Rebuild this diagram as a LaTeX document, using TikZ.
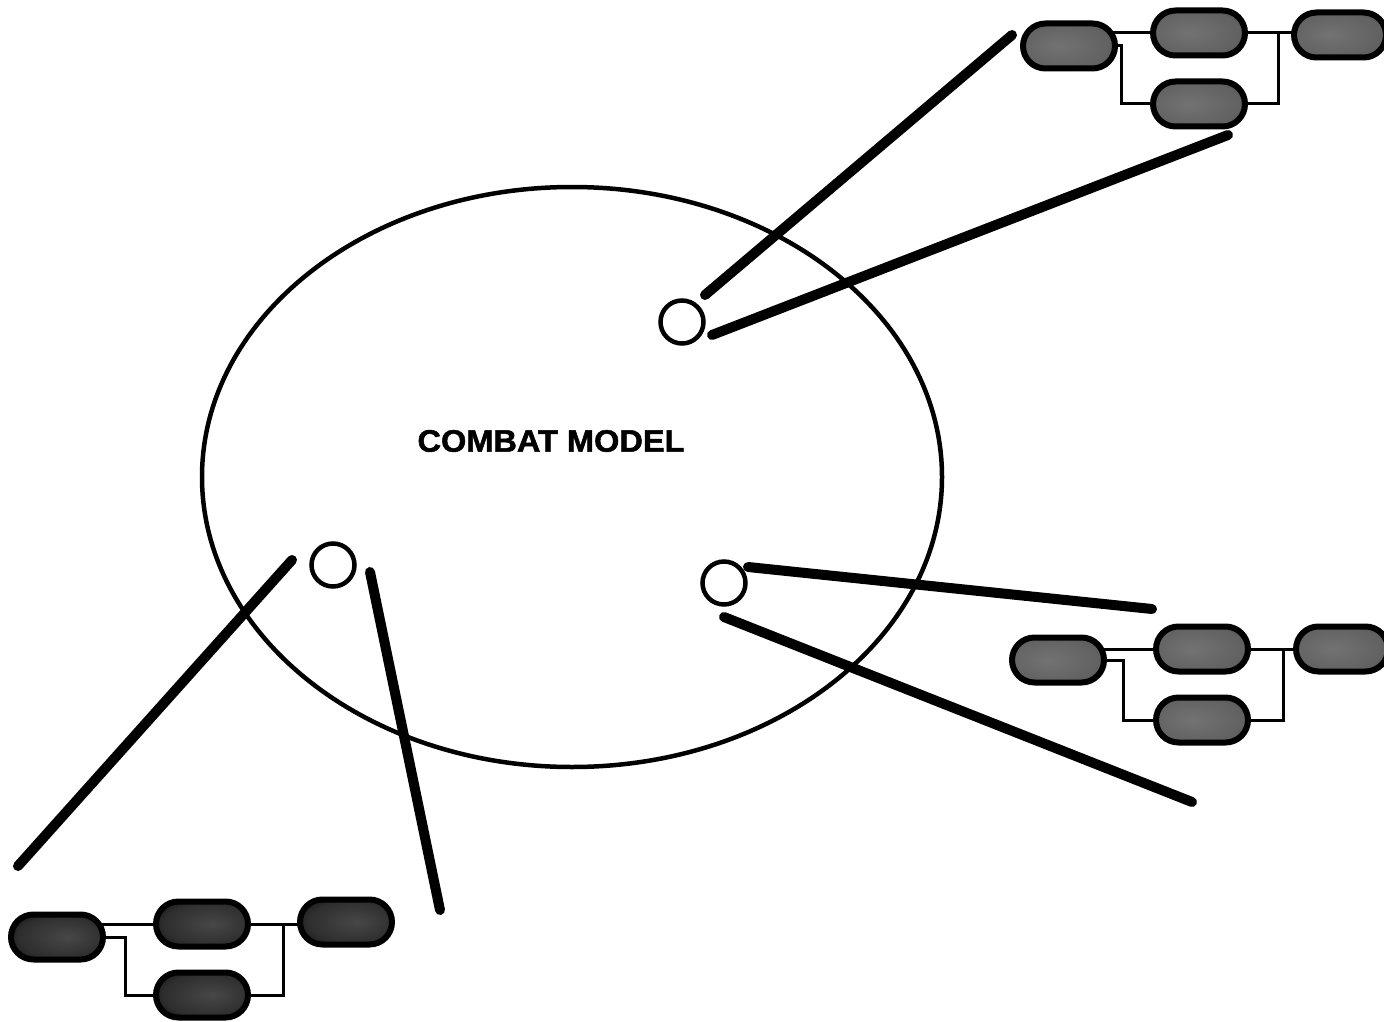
\documentclass[tikz,border=0pt]{standalone}
\usepackage{fontspec}
\setmainfont{Liberation Sans}
\newfontfamily\titlefont[FakeBold=1.6]{Liberation Sans Bold}
\usetikzlibrary{shapes.misc,shapes.geometric,backgrounds}
% halftone-like fill: grey body darkening to black at the rim
\pgfdeclareradialshading{pillgrey}{\pgfpoint{-6bp}{0bp}}{%
  color(0bp)=(black!55); color(26bp)=(black!62); color(40bp)=(black!85); color(50bp)=(black)}
\pgfdeclareradialshading{pilldark}{\pgfpoint{6bp}{0bp}}{%
  color(0bp)=(black!72); color(24bp)=(black!82); color(38bp)=(black!96); color(50bp)=(black)}
\begin{document}
\begin{tikzpicture}[x=1pt,y=-1pt,
  pill/.style={rounded rectangle, draw=black, line width=6pt,
    minimum width=92pt, minimum height=45pt, inner sep=0pt,
    shade, shading=pillgrey},
  darkpill/.style={pill, shading=pilldark},
  port/.style={circle, draw=black, line width=4.5pt, minimum size=43pt, inner sep=0pt, fill=white},
  link/.style={line width=3pt},
  zoomline/.style={line width=10pt, line cap=round},
]
\useasboundingbox (0,0) rectangle (1384,1022);
\clip (0,0) rectangle (1384,1022);

% combat model boundary and title
\node[ellipse, draw=black, line width=4.5pt, minimum width=740pt, minimum height=580pt, inner sep=0pt] (model) at (572,477) {};
\node[font=\titlefont\fontsize{31}{31}\selectfont] (title) at (551,441) {\scalebox{1.05}[1]{COMBAT MODEL}};

% ports inside the model
\node[port] (pA) at (682,322) {};
\node[port] (pB) at (333,565) {};
\node[port] (pC) at (724,583) {};

% upper right network
\node[pill] (tr1) at (1069,46) {};
\node[pill] (tr2) at (1199,33) {};
\node[pill] (tr3) at (1340,35) {};
\node[pill] (tr4) at (1199,104) {};
\coordinate (trL) at (1121,0);
\coordinate (trR) at (1278,0);

% lower right network
\node[pill] (br1) at (1058,660) {};
\node[pill] (br2) at (1202,649) {};
\node[pill] (br3) at (1342,649) {};
\node[pill] (br4) at (1202,720) {};
\coordinate (brL) at (1123,0);
\coordinate (brR) at (1283,0);

% lower left network
\node[darkpill] (bl1) at (57,937) {};
\node[darkpill] (bl2) at (202,924) {};
\node[darkpill] (bl3) at (346,922) {};
\node[darkpill] (bl4) at (202,995) {};
\coordinate (blL) at (125,0);
\coordinate (blR) at (283,0);

\begin{pgfonlayer}{background}
  \draw[link] (tr1.center) -- (tr1.center |- tr2.center) -- (tr3.center |- tr2.center);
  \draw[link] (tr1.center) -| (trL |- tr4.center) -- (tr4.center);
  \draw[link] (tr2.center) -| (trR |- tr4.center) -- (tr4.center);

  \draw[link] (br1.center) -- (br1.center |- br2.center) -- (br3.center |- br2.center);
  \draw[link] (br1.center) -| (brL |- br4.center) -- (br4.center);
  \draw[link] (br2.center) -| (brR |- br4.center) -- (br4.center);

  \draw[link] (bl1.center) -- (bl1.center |- bl2.center) -- (bl3.center |- bl2.center);
  \draw[link] (bl1.center) -| (blL |- bl4.center) -- (bl4.center);
  \draw[link] (bl2.center) -| (blR |- bl4.center) -- (bl4.center);
\end{pgfonlayer}

% zoom lines from each port to its network
\coordinate (a1) at (705,295);  \coordinate (a2) at (1012,35);
\coordinate (a3) at (712,335);  \coordinate (a4) at (1228,135);
\coordinate (b1) at (292,560);  \coordinate (b2) at (18,866);
\coordinate (b3) at (370,572);  \coordinate (b4) at (440,910);
\coordinate (c1) at (748,567);  \coordinate (c2) at (1152,609);
\coordinate (c3) at (724,617);  \coordinate (c4) at (1192,802);
\draw[zoomline] (a1) -- (a2);
\draw[zoomline] (a3) -- (a4);
\draw[zoomline] (b1) -- (b2);
\draw[zoomline] (b3) -- (b4);
\draw[zoomline] (c1) -- (c2);
\draw[zoomline] (c3) -- (c4);
\end{tikzpicture}
\end{document}
